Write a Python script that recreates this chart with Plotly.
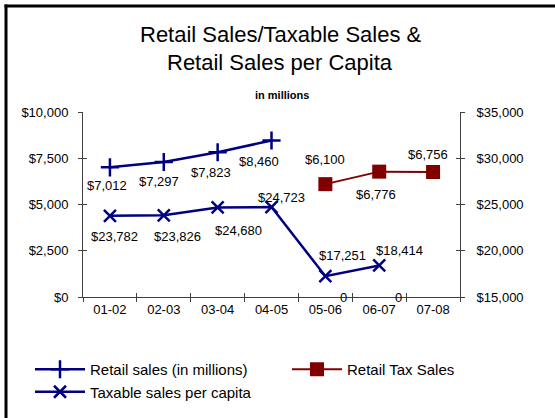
import plotly.graph_objects as go

# Fiscal-year categories
years = ["01-02", "02-03", "03-04", "04-05", "05-06", "06-07", "07-08"]

# Retail sales, $ millions (left axis)
retail_sales = [7012, 7297, 7823, 8460, None, None, None]
# Retail tax sales, $ millions (left axis)
retail_tax_sales = [None, None, None, None, 6100, 6776, 6756]
# Taxable sales per capita, $ (right axis)
per_capita = [23782, 23826, 24680, 24723, 17251, 18414, None]
# Empty retail-sales entries reported as zero
zero_entries = [None, None, None, None, 0, 0, None]

left_ticks = [0, 2500, 5000, 7500, 10000]
right_ticks = [15000, 20000, 25000, 30000, 35000]

NAVY = "#000080"
MAROON = "#800000"
AXIS = "#404040"
FONT = "Liberation Sans, Arial, sans-serif"

W, H = 555, 418
L, R, T, B = 83, 95, 112, 121
PW, PH = W - L - R, H - T - B

# Data-label offsets from each point (pixels: right, down)
retail_label_off = [(-3, 18), (-5, 19), (-7, 20), (-13, 21), None, None, None]
tax_label_off = [None, None, None, None, (0, -25), (-3, 23), (-5, -18)]
capita_label_off = [(5, 21), (14, 21), (21, 23), (10, -10), (17, -21), (20, -15), None]
zero_label_off = [None, None, None, None, (18, 0), (19, 0), None]


def px_x(p):
    return (p - L) / PW


def px_y(p):
    return (H - B - p) / PH


def money(v):
    return f"${v:,}"


fig = go.Figure()

fig.add_trace(go.Scatter(
    x=years, y=retail_sales, name="Retail sales (in millions)", legend="legend",
    mode="lines+markers",
    line=dict(color=NAVY, width=2.5),
    marker=dict(symbol="cross-thin-open", size=13, line=dict(color=NAVY, width=2.5)),
    cliponaxis=False, yaxis="y",
))

fig.add_trace(go.Scatter(
    x=years, y=retail_tax_sales, name="Retail Tax Sales", legend="legend2",
    mode="lines+markers",
    line=dict(color=MAROON, width=2),
    marker=dict(symbol="square", size=14, color=MAROON),
    cliponaxis=False, yaxis="y",
))

fig.add_trace(go.Scatter(
    x=years, y=per_capita, name="Taxable sales per capita", legend="legend",
    mode="lines+markers",
    line=dict(color=NAVY, width=2.5),
    marker=dict(symbol="x-thin-open", size=12, line=dict(color=NAVY, width=2.5)),
    cliponaxis=False, yaxis="y2",
))

# Empty traces so the tick-only overlay axes get drawn
fig.add_trace(go.Scatter(x=[], y=[], xaxis="x2", yaxis="y3", showlegend=False,
                         hoverinfo="skip"))
fig.add_trace(go.Scatter(x=[], y=[], xaxis="x2", yaxis="y4", showlegend=False,
                         hoverinfo="skip"))

annotations = []


def add_labels(values, offsets, yref, fmt):
    for yr, v, off in zip(years, values, offsets):
        if v is None:
            continue
        dx, dy = off
        annotations.append(dict(
            x=yr, y=v, xref="x", yref=yref, text=fmt(v), showarrow=False,
            xshift=dx, yshift=-dy, xanchor="center", yanchor="middle",
            font=dict(family=FONT, size=13, color="black"),
        ))


add_labels(retail_sales, retail_label_off, "y", money)
add_labels(retail_tax_sales, tax_label_off, "y", money)
add_labels(per_capita, capita_label_off, "y2", money)
add_labels(zero_entries, zero_label_off, "y", str)

annotations += [
    dict(x=px_x(281), y=px_y(34), xref="paper", yref="paper",
         text="Retail Sales/Taxable Sales &", showarrow=False,
         font=dict(family=FONT, size=22, color="black"), xanchor="center", yanchor="middle"),
    dict(x=px_x(280), y=px_y(62), xref="paper", yref="paper",
         text="Retail Sales per Capita", showarrow=False,
         font=dict(family=FONT, size=22, color="black"), xanchor="center", yanchor="middle"),
    dict(x=px_x(282), y=px_y(95), xref="paper", yref="paper",
         text="<b>in millions</b>", showarrow=False,
         font=dict(family=FONT, size=11, color="black"), xanchor="center", yanchor="middle"),
]

shapes = [
    dict(type="line", xref="paper", yref="paper", x0=px_x(4.5), x1=px_x(W),
         y0=px_y(6), y1=px_y(6), line=dict(color="black", width=3)),
    dict(type="line", xref="paper", yref="paper", x0=px_x(6), x1=px_x(6),
         y0=px_y(4.5), y1=px_y(H), line=dict(color="black", width=3)),
]

axis_common = dict(
    showgrid=False, zeroline=False, showline=True, linecolor=AXIS, linewidth=1,
    ticks="outside", ticklen=4, tickcolor=AXIS,
    tickfont=dict(family=FONT, size=13, color="black"),
)
# Inner half of the cross-shaped tick marks
inner_ticks = dict(
    showgrid=False, zeroline=False, showline=False, ticks="inside", ticklen=4,
    tickcolor=AXIS, showticklabels=False,
)

legend_common = dict(
    orientation="v", xanchor="left", yanchor="top", itemwidth=50,
    font=dict(family=FONT, size=15, color="black"),
    bgcolor="rgba(0,0,0,0)", tracegroupgap=0,
)

fig.update_layout(
    width=W, height=H,
    margin=dict(l=L, r=R, t=T, b=B, pad=0, autoexpand=False),
    paper_bgcolor="white", plot_bgcolor="white",
    font=dict(family=FONT, color="black"),
    showlegend=True,
    legend=dict(**legend_common, x=px_x(30), y=px_y(353)),
    legend2=dict(**legend_common, x=px_x(287), y=px_y(353)),
    xaxis=dict(
        **axis_common, type="category", categoryorder="array", categoryarray=years,
        range=[-0.5, len(years) - 0.5], tickson="boundaries",
    ),
    xaxis2=dict(
        **inner_ticks, type="category", categoryorder="array", categoryarray=years,
        range=[-0.5, len(years) - 0.5], tickson="boundaries",
        overlaying="x", anchor="y3", side="bottom",
    ),
    yaxis=dict(
        **axis_common, range=[left_ticks[0], left_ticks[-1]], tickvals=left_ticks,
        ticktext=[money(v) for v in left_ticks], ticklabelstandoff=7,
    ),
    yaxis2=dict(
        **axis_common, range=[right_ticks[0], right_ticks[-1]], tickvals=right_ticks,
        ticktext=[money(v) for v in right_ticks], overlaying="y", side="right",
        ticklabelstandoff=9,
    ),
    yaxis3=dict(
        **inner_ticks, range=[left_ticks[0], left_ticks[-1]], tickvals=left_ticks,
        overlaying="y", side="left", anchor="x2",
    ),
    yaxis4=dict(
        **inner_ticks, range=[right_ticks[0], right_ticks[-1]], tickvals=right_ticks,
        overlaying="y", side="right", anchor="x2",
    ),
    annotations=annotations,
    shapes=shapes,
)

fig.write_html("out.html")
